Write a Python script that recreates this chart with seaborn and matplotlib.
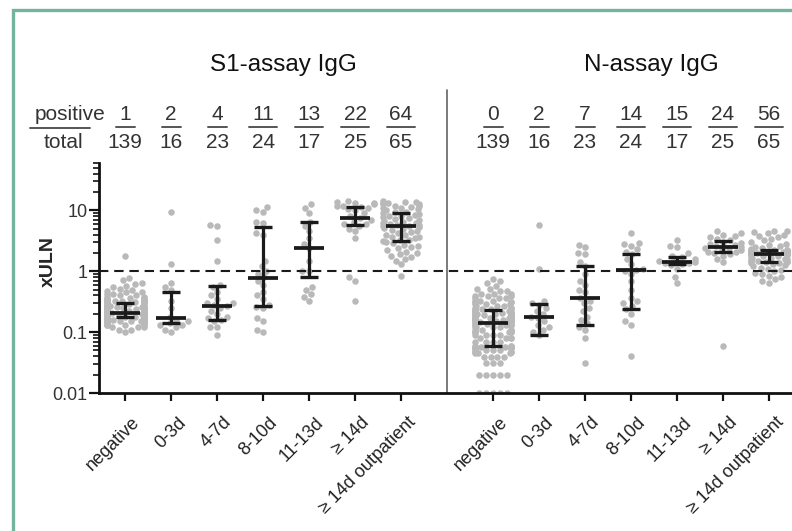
import numpy as np
import pandas as pd
import seaborn as sns
import matplotlib
matplotlib.use("Agg")
import matplotlib.pyplot as plt
from matplotlib.lines import Line2D
from matplotlib.patches import Rectangle
from matplotlib.ticker import LogLocator, FixedFormatter, FixedLocator, NullFormatter
import matplotlib.transforms as mtransforms

# ---------------- data ----------------
categories = ["negative", "0-3d", "4-7d", "8-10d", "11-13d", "\u2265 14d", "\u2265 14d outpatient"]
assays = ["S1-assay IgG", "N-assay IgG"]

s1_positive = [1, 2, 4, 11, 13, 22, 64]
s1_total = [139, 16, 23, 24, 17, 25, 65]
n_positive = [0, 2, 7, 14, 15, 24, 56]
n_total = [139, 16, 23, 24, 17, 25, 65]

# median and interquartile range
s1_median = [0.21, 0.17, 0.27, 0.78, 2.4, 7.5, 5.6]
s1_q1 = [0.18, 0.14, 0.16, 0.27, 0.80, 5.8, 3.1]
s1_q3 = [0.30, 0.46, 0.58, 5.3, 6.5, 11.2, 9.1]
n_median = [0.14, 0.18, 0.37, 1.05, 1.44, 2.47, 1.93]
n_q1 = [0.06, 0.09, 0.13, 0.24, 1.32, 2.1, 1.4]
n_q3 = [0.23, 0.29, 1.2, 1.9, 1.74, 3.1, 2.27]

# individual values (xULN)
s1_negative = [0.10, 0.11, 0.11, 0.12, 0.12, 0.12, 0.13, 0.13, 0.13, 0.13, 0.14, 0.14, 0.14, 0.14, 0.14,
               0.15, 0.15, 0.15, 0.15, 0.15, 0.16, 0.16, 0.16, 0.16, 0.16, 0.16, 0.17, 0.17, 0.17, 0.17,
               0.17, 0.17, 0.17, 0.17, 0.17,
               0.18, 0.18, 0.18, 0.18, 0.18, 0.18, 0.18, 0.18, 0.19, 0.19, 0.19, 0.19, 0.19, 0.19, 0.19,
               0.19, 0.20, 0.20, 0.20, 0.20, 0.20, 0.20, 0.20, 0.20, 0.20, 0.21, 0.21, 0.21, 0.21, 0.21,
               0.21, 0.21, 0.21, 0.21, 0.22, 0.22, 0.22, 0.22, 0.22, 0.22, 0.22, 0.22, 0.23, 0.23, 0.23,
               0.23, 0.23, 0.23, 0.23, 0.24, 0.24, 0.24, 0.24, 0.24, 0.24, 0.25, 0.25, 0.25, 0.25, 0.25,
               0.26, 0.26, 0.26, 0.26, 0.27, 0.27, 0.27, 0.28, 0.28, 0.29,
               0.30, 0.30, 0.30, 0.31, 0.31, 0.32, 0.32, 0.32, 0.33, 0.33, 0.34, 0.34, 0.35, 0.35, 0.37,
               0.37, 0.38, 0.38, 0.40, 0.40, 0.42, 0.42, 0.45, 0.45, 0.48, 0.50, 0.52, 0.55, 0.58, 0.62,
               0.65, 0.72, 0.78, 1.8]
s1_0_3d = [0.10, 0.11, 0.12, 0.13, 0.13, 0.14, 0.15, 0.16, 0.18, 0.25, 0.32, 0.50, 0.55, 0.65, 1.3, 9.5]
s1_4_7d = [5.8, 5.5, 3.2, 1.5, 0.6, 0.55, 0.45, 0.4, 0.35, 0.3, 0.3, 0.28, 0.27, 0.25, 0.22, 0.2,
           0.18, 0.17, 0.16, 0.15, 0.12, 0.12, 0.09]
s1_8_10d = [11.5, 10, 9.5, 6.5, 6.3, 4.2, 4.0, 1.5, 1.2, 1.0, 0.9, 0.8, 0.7, 0.6, 0.45, 0.4, 0.35,
            0.28, 0.26, 0.25, 0.17, 0.15, 0.11, 0.10]
s1_11_13d = [12.5, 11, 9, 6.5, 5.5, 4.5, 3.5, 2.8, 2.4, 1.5, 1.0, 1.0, 0.55, 0.5, 0.42, 0.38, 0.33]
s1_14d = [14, 13.5, 13, 13, 12.5, 12, 12, 11.5, 11, 10.5, 10, 9, 8, 7.5, 7, 6.5, 6, 6, 5.5, 5, 4.5,
          3.5, 0.8, 0.7, 0.32]
s1_14d_out = [14, 13.5, 13.5, 13, 13, 12.5, 12.5, 12, 12, 11.5, 11, 11, 10.5, 10, 9.5, 9.3,
              9.0, 8.8, 8.5, 8.2, 8, 7.8, 7.5, 7.2, 7, 6.8, 6.5, 6.3, 6.1, 6, 5.8, 5.7, 5.6,
              5.5, 5.3, 5.1, 5, 4.8, 4.6, 4.4, 4.2, 4, 3.9, 3.7, 3.6, 3.5, 3.3, 3.2, 3.1,
              3.0, 2.9, 2.7, 2.6, 2.5, 2.4, 2.2, 2.1, 2.0, 1.9, 1.8, 1.7, 1.6, 1.5, 1.3, 0.85]

n_negative = [0.01, 0.01, 0.01, 0.01, 0.01, 0.02, 0.02, 0.02, 0.02, 0.02,
              0.031, 0.031, 0.031, 0.039, 0.039, 0.039, 0.039, 0.045, 0.045, 0.045,
              0.048, 0.048, 0.048, 0.05, 0.05, 0.05, 0.05, 0.055, 0.055, 0.055, 0.055,
              0.058, 0.058, 0.058, 0.058,
              0.06, 0.06, 0.06, 0.07, 0.07, 0.07, 0.07, 0.08, 0.08, 0.08, 0.08, 0.09, 0.09, 0.09, 0.09,
              0.10, 0.10, 0.10, 0.10, 0.10, 0.11, 0.11, 0.11, 0.11, 0.12, 0.12, 0.12, 0.12, 0.13, 0.13,
              0.13, 0.13, 0.135, 0.135, 0.14,
              0.145, 0.145, 0.15, 0.15, 0.15, 0.15, 0.16, 0.16, 0.16, 0.16, 0.17, 0.17, 0.17, 0.17,
              0.18, 0.18, 0.18, 0.18, 0.19, 0.19, 0.19, 0.19, 0.20, 0.20, 0.20, 0.20, 0.21, 0.21, 0.21,
              0.21, 0.22, 0.22, 0.22, 0.22,
              0.24, 0.24, 0.24, 0.25, 0.25, 0.25, 0.27, 0.27, 0.27, 0.29, 0.29, 0.29, 0.31, 0.31, 0.31,
              0.33, 0.33, 0.33, 0.36, 0.36, 0.36, 0.39, 0.39, 0.39, 0.43, 0.43, 0.43, 0.47, 0.47, 0.52,
              0.52, 0.58, 0.65, 0.70, 0.75]
n_0_3d = [5.8, 1.1, 0.33, 0.3, 0.28, 0.25, 0.22, 0.2, 0.18, 0.17, 0.15, 0.13, 0.12, 0.11, 0.1, 0.09]
n_4_7d = [2.7, 2.5, 2.0, 1.9, 1.4, 1.2, 0.9, 0.7, 0.6, 0.5, 0.45, 0.37, 0.33, 0.3, 0.25, 0.22, 0.18,
          0.16, 0.14, 0.12, 0.11, 0.08, 0.031]
n_8_10d = [4.3, 2.9, 2.8, 2.6, 2.3, 2.1, 1.9, 1.6, 1.3, 1.1, 1.05, 1.0, 0.9, 0.7, 0.5, 0.36, 0.32, 0.3,
           0.27, 0.24, 0.2, 0.15, 0.13, 0.04]
n_11_13d = [3.2, 2.6, 2.5, 2.0, 1.8, 1.7, 1.6, 1.5, 1.45, 1.4, 1.38, 1.35, 1.3, 1.25, 1.1, 0.8, 0.63]
n_14d = [4.6, 4.2, 4.0, 3.8, 3.6, 3.4, 3.2, 3.0, 2.9, 2.8, 2.7, 2.6, 2.5, 2.45, 2.4, 2.3, 2.2, 2.1,
         2.05, 2.0, 1.9, 1.8, 1.6, 1.4, 0.06]
n_14d_out = [4.6, 4.5, 4.4, 4.2, 4.0, 3.8, 3.6, 3.4, 3.2, 3.0, 2.8, 2.7, 2.6, 2.5, 2.4, 2.3,
             2.26, 2.24, 2.22, 2.2, 2.18, 2.15, 2.12, 2.1, 2.08, 2.05, 2.03, 2.0, 1.99, 1.97, 1.95,
             1.94, 1.93,
             1.9, 1.87, 1.84, 1.8, 1.76, 1.72, 1.68, 1.64, 1.6, 1.57, 1.54, 1.5, 1.47, 1.45, 1.43, 1.41,
             1.38, 1.35, 1.3, 1.25, 1.2, 1.15, 1.1, 1.05, 1.0, 0.95, 0.9, 0.85, 0.8, 0.75, 0.7, 0.65]

s1_groups = [s1_negative, s1_0_3d, s1_4_7d, s1_8_10d, s1_11_13d, s1_14d, s1_14d_out]
n_groups = [n_negative, n_0_3d, n_4_7d, n_8_10d, n_11_13d, n_14d, n_14d_out]

# ---------------- build table ----------------
s1_pos = list(range(0, 7))
n_pos = list(range(8, 15))
rows = []
for p, g in zip(s1_pos, s1_groups):
    rows += [(p, v) for v in g]
for p, g in zip(n_pos, n_groups):
    rows += [(p, v) for v in g]
df = pd.DataFrame(rows, columns=["pos", "xuln"])

# ---------------- figure ----------------
sns.set_style("ticks")
plt.rcParams["font.family"] = ["Liberation Sans", "DejaVu Sans"]

W, H = 792, 531
fig = plt.figure(figsize=(W / 100, H / 100), dpi=100)
ax_left, ax_right, ax_bot, ax_top = 98.5, 792, 393, 163
ax = fig.add_axes([ax_left / W, 1 - ax_bot / H, (ax_right - ax_left) / W, (ax_bot - ax_top) / H])

ax.set_xlim(-0.58, 14.5)
ax.set_ylim(0.01, 60)
sns.swarmplot(data=df, x="pos", y="xuln", native_scale=True, log_scale=(False, True),
              color="#b9b9b9", size=4.7, linewidth=0, ax=ax, zorder=2, warn_thresh=1.0)

ax.set_xlim(-0.58, 14.5)
ax.set_ylim(0.01, 60)

# median + IQR
med_hw, cap_hw = 0.32, 0.19
for pos, med, q1, q3 in ((s1_pos, s1_median, s1_q1, s1_q3), (n_pos, n_median, n_q1, n_q3)):
    pos = np.array(pos, dtype=float)
    ax.vlines(pos, q1, q3, color="#1a1a1a", lw=2.3, zorder=4)
    ax.hlines(med, pos - med_hw, pos + med_hw, color="#1a1a1a", lw=2.7, zorder=4)
    ax.hlines(q1, pos - cap_hw, pos + cap_hw, color="#1a1a1a", lw=2.4, zorder=4)
    ax.hlines(q3, pos - cap_hw, pos + cap_hw, color="#1a1a1a", lw=2.4, zorder=4)

# cut-off line
ax.axhline(1, color="#1a1a1a", lw=1.5, ls=(0, (4.5, 2.8)), zorder=3)

# separator line between the assays
ax.axvline(7, ymin=0, ymax=(ax_bot - 90) / (ax_bot - ax_top), color="#707070", lw=1.3,
           clip_on=False, zorder=1)

# axes styling
for s in ("top", "right"):
    ax.spines[s].set_visible(False)
ax.spines["left"].set_linewidth(2.0)
ax.spines["bottom"].set_linewidth(2.0)
ax.spines["left"].set_color("#111111")
ax.spines["bottom"].set_color("#111111")

ax.yaxis.set_major_locator(FixedLocator([0.01, 0.1, 1, 10]))
ax.yaxis.set_major_formatter(FixedFormatter(["0.01", "0.1", "1", "10"]))
ax.yaxis.set_minor_locator(LogLocator(base=10, subs=np.arange(2, 10), numticks=20))
ax.yaxis.set_minor_formatter(NullFormatter())
ax.tick_params(axis="y", which="major", length=7, width=1.6, labelsize=13, pad=1,
               labelcolor="#333333", color="#111111")
ax.tick_params(axis="y", which="minor", length=4, width=1.2, color="#111111")

ax.set_xticks(s1_pos + n_pos)
ax.set_xticklabels(categories + categories, rotation=45, ha="right", rotation_mode="anchor",
                   fontsize=13, color="#222222")
ax.tick_params(axis="x", length=6, width=1.6, pad=9, color="#111111")
offset = mtransforms.ScaledTranslation(6 / 100, 0, fig.dpi_scale_trans)
for lab in ax.get_xticklabels():
    lab.set_transform(lab.get_transform() + offset)

ax.set_xlabel("")
ax.set_ylabel("xULN", fontsize=14, fontweight="bold", labelpad=6)
ax.yaxis.set_label_coords(-(ax_left - 57) / (ax_right - ax_left), (ax_bot - 262) / (ax_bot - ax_top))

# titles and counts
trans = mtransforms.blended_transform_factory(ax.transData, ax.transAxes)
def ay(py):
    return (ax_bot - py) / (ax_bot - ax_top)

ax.text(3.45, ay(65), assays[0], transform=trans, ha="center", va="center", fontsize=17.5,
        color="#111111")
ax.text(11.45, ay(65), assays[1], transform=trans, ha="center", va="center", fontsize=17.5,
        color="#111111")

for pos, pos_n, tot in ((s1_pos, s1_positive, s1_total), (n_pos, n_positive, n_total)):
    for p, a, b in zip(pos, pos_n, tot):
        ax.text(p, ay(115), str(a), transform=trans, ha="center", va="center", fontsize=15,
                color="#333333")
        ax.text(p, ay(142), str(b), transform=trans, ha="center", va="center", fontsize=15,
                color="#333333")
        hw = (5 + 4.5 * len(str(a))) / 46.0
        ax.add_line(Line2D([p - hw, p + hw], [ay(127.5)] * 2, transform=trans, color="#555555",
                           lw=1.4, clip_on=False))

fig.text(70 / W, 1 - 115 / H, "positive", ha="center", va="center", fontsize=15, color="#333333")
fig.text(63 / W, 1 - 142 / H, "total", ha="center", va="center", fontsize=15, color="#333333")
fig.add_artist(Line2D([30 / W, 90 / W], [1 - 127.5 / H] * 2, color="#555555", lw=1.4))

# teal frame
fig.add_artist(Rectangle((12.5 / W, -0.1), 1.2, 1 - 10 / H + 0.1, transform=fig.transFigure,
                         fill=False, edgecolor="#72b49c", lw=2.4))

fig.savefig("out.png", dpi=100)
